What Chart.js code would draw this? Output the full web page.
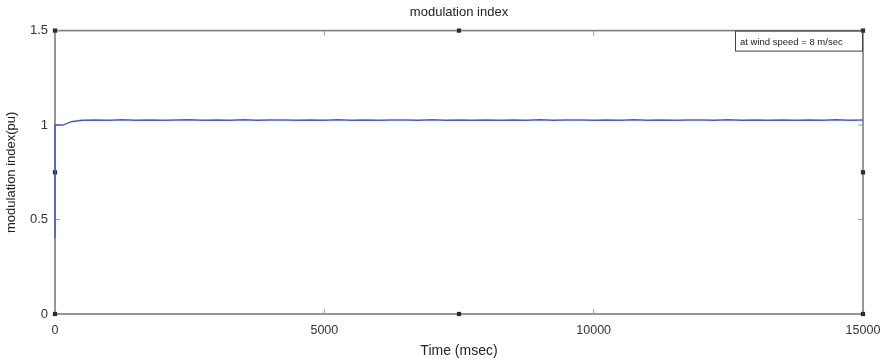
<!DOCTYPE html>
<html>
<head>
<meta charset="utf-8">
<script src="https://cdn.jsdelivr.net/npm/chart.js@4"></script>
<style>
  html, body { margin: 0; padding: 0; background: #fff; }
  #wrap { width: 882px; height: 363px; }
</style>
</head>
<body>
<div id="wrap"><canvas id="modChart" width="882" height="363"></canvas></div>
<script>
// modulation index vs time
const timeMs = [0, 0, 150, 300, 500,
  750, 1000, 1250, 1500, 1750, 2000, 2250, 2500, 2750, 3000,
  3250, 3500, 3750, 4000, 4250, 4500, 4750, 5000, 5250, 5500,
  5750, 6000, 6250, 6500, 6750, 7000, 7250, 7500, 7750, 8000,
  8250, 8500, 8750, 9000, 9250, 9500, 9750, 10000, 10250, 10500,
  10750, 11000, 11250, 11500, 11750, 12000, 12250, 12500, 12750, 13000,
  13250, 13500, 13750, 14000, 14250, 14500, 14750, 15000];
const modIndex = [0.4, 1.0, 1.0, 1.018, 1.026,
  1.027, 1.026, 1.028, 1.026, 1.027, 1.026, 1.027, 1.028, 1.026, 1.027,
  1.026, 1.028, 1.026, 1.027, 1.027, 1.026, 1.027, 1.026, 1.028, 1.026,
  1.027, 1.026, 1.027, 1.027, 1.026, 1.028, 1.026, 1.027, 1.026, 1.027,
  1.026, 1.027, 1.026, 1.028, 1.026, 1.027, 1.027, 1.026, 1.027, 1.026,
  1.028, 1.026, 1.027, 1.026, 1.027, 1.027, 1.026, 1.028, 1.026, 1.027,
  1.026, 1.027, 1.026, 1.027, 1.026, 1.028, 1.026, 1.027];

// little square markers on the frame
const markX = [0, 7500, 15000, 0, 15000, 0, 7500, 15000];
const markY = [0, 0, 0, 0.75, 0.75, 1.5, 1.5, 1.5];

const xTicks = [0, 5000, 10000, 15000];
const yTicks = [0, 0.5, 1, 1.5];
const noteText = "at wind speed = 8 m/sec";

const FONT = "'Liberation Sans', Arial, sans-serif";

// frame and inward ticks under the line, note box on top
const framePlugin = {
  id: "frame",
  beforeDatasetsDraw(chart) {
    const { ctx, chartArea: a, scales } = chart;
    ctx.save();
    ctx.strokeStyle = "#7c7c7c";
    ctx.lineWidth = 1.6;
    ctx.strokeRect(a.left, a.top, a.right - a.left, a.bottom - a.top);
    ctx.lineWidth = 1;
    ctx.strokeStyle = "#999";
    ctx.beginPath();
    yTicks.forEach(v => {
      const y = scales.y.getPixelForValue(v);
      ctx.moveTo(a.left, y); ctx.lineTo(a.left + 5, y);
      ctx.moveTo(a.right, y); ctx.lineTo(a.right - 5, y);
    });
    xTicks.forEach(v => {
      const x = scales.x.getPixelForValue(v);
      ctx.moveTo(x, a.bottom); ctx.lineTo(x, a.bottom - 5);
      ctx.moveTo(x, a.top); ctx.lineTo(x, a.top + 5);
    });
    ctx.stroke();
    ctx.restore();
  },
  afterDraw(chart) {
    const { ctx, chartArea: a } = chart;
    ctx.save();
    const bw = 128, bh = 21;
    const bx = a.right - bw, by = a.top;
    ctx.fillStyle = "#fff";
    ctx.fillRect(bx, by + 1, bw - 2, bh - 1);
    ctx.strokeStyle = "#444";
    ctx.lineWidth = 1;
    ctx.strokeRect(bx + 0.5, by + 0.5, bw - 1, bh - 1);
    ctx.fillStyle = "#222";
    ctx.font = "9.5px " + FONT;
    ctx.textBaseline = "middle";
    ctx.fillText(noteText, bx + 5, by + bh / 2 + 1);
    ctx.restore();
  }
};

new Chart(document.getElementById("modChart"), {
  type: "line",
  data: {
    datasets: [
      {
        label: "modulation index",
        data: timeMs.map((t, i) => ({ x: t, y: modIndex[i] })),
        borderColor: "rgb(72, 88, 218)",
        borderWidth: 1.5,
        pointRadius: 0,
        tension: 0,
        fill: false,
        clip: false
      },
      {
        label: "marks",
        data: markX.map((t, i) => ({ x: t, y: markY[i] })),
        showLine: false,
        pointStyle: "rect",
        pointRadius: 3,
        backgroundColor: "#2a2a2a",
        borderColor: "#2a2a2a",
        borderWidth: 0,
        clip: false
      }
    ]
  },
  options: {
    responsive: false,
    animation: false,
    layout: { padding: { left: 0, right: 19, top: 0, bottom: 0 } },
    plugins: {
      legend: { display: false },
      tooltip: { enabled: false },
      title: {
        display: true,
        text: "modulation index",
        fullSize: false,
        color: "#222",
        font: { family: FONT, size: 13, weight: "normal" },
        padding: { top: 5, bottom: 10 }
      }
    },
    scales: {
      x: {
        type: "linear",
        min: 0,
        max: 15000,
        afterBuildTicks: s => { s.ticks = xTicks.map(v => ({ value: v })); },
        afterFit: s => { s.height = 49; s.paddingLeft = 0; s.paddingRight = 0; },
        border: { display: false },
        grid: { display: false, drawTicks: false },
        ticks: {
          color: "#333",
          padding: 9,
          maxRotation: 0,
          font: { family: FONT, size: 12.5 },
          callback: v => String(v)
        },
        title: {
          display: true,
          text: "Time (msec)",
          color: "#222",
          font: { family: FONT, size: 14 },
          padding: { top: 0, bottom: 3 }
        }
      },
      y: {
        type: "linear",
        min: 0,
        max: 1.5,
        afterBuildTicks: s => { s.ticks = yTicks.map(v => ({ value: v })); },
        afterFit: s => { s.width = 55; s.paddingTop = 0; s.paddingBottom = 0; },
        border: { display: false },
        grid: { display: false, drawTicks: false },
        ticks: {
          color: "#333",
          padding: 7,
          font: { family: FONT, size: 13 },
          callback: v => String(v)
        },
        title: {
          display: true,
          text: "modulation index(pu)",
          color: "#222",
          font: { family: FONT, size: 13 },
          padding: { top: 4, bottom: 0 }
        }
      }
    }
  },
  plugins: [framePlugin]
});
</script>
</body>
</html>
